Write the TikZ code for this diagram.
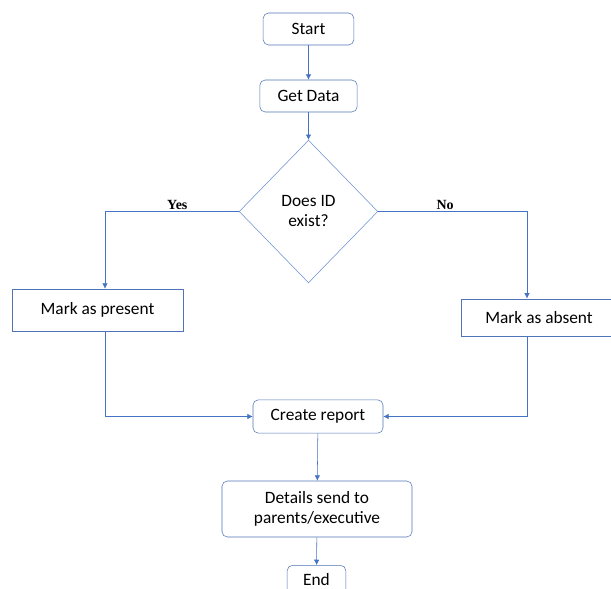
\documentclass[tikz,border=0pt]{standalone}
\usepackage{fontspec}
\setmainfont{Carlito}
\newfontfamily\labelfont{Liberation Serif}
\usetikzlibrary{arrows.meta,shapes.geometric,calc}
\definecolor{lineblue}{HTML}{4472C4}
\definecolor{boxblue}{HTML}{4F74B8}

\begin{document}
\begin{tikzpicture}[x=0.75pt,y=-0.75pt,font=\fontsize{13}{15}\selectfont,
  term/.style={draw=boxblue,rounded corners=4pt,fill=white,align=center,inner sep=0pt},
  plain/.style={draw=boxblue,fill=white,align=center,inner sep=0pt},
  decision/.style={draw=lineblue!80,diamond,align=center,inner sep=0pt,minimum width=104pt,minimum height=107pt},
  flow/.style={lineblue,-{Latex[length=4pt,width=4pt]}},
  tag/.style={text=black,font=\labelfont\bfseries\fontsize{10.5}{12}\selectfont,inner sep=1pt}]
\clip (0,0) rectangle (611,589);
\node[term,minimum width=68pt,minimum height=24pt] (start) at (308.5,29) {Start};
\node[term,minimum width=73pt,minimum height=24pt] (getdata) at (308.5,96) {Get Data};
\node[decision] (decide) at (308.5,211.5) {Does ID\\exist?};
\node[plain,minimum width=128pt,minimum height=31.5pt] (present) at (97.5,310) {Mark as present};
\node[plain,minimum width=117pt,minimum height=28pt] (absent) at (539,317.5) {Mark as absent};
\node[term,minimum width=97.5pt,minimum height=25pt] (report) at (318,416.5) {Create report};
\node[term,minimum width=142.5pt,minimum height=42pt] (details) at (317,509) {Details send to\\parents/executive};
\node[term,minimum width=44pt,minimum height=22pt] (finish) at (316.5,580) {End};
% branches
\draw[flow] (start) -- (getdata);
\draw[flow] (getdata) -- (decide);
\draw[flow] (decide.west) -| ($(present.north)+(7.5,0)$) node[tag,above,pos=0.23]{Yes};
\draw[flow] (decide.east) -| ($(absent.north)+(-12,0)$) node[tag,above,pos=0.225]{No};
% merge
\draw[flow] ($(present.south)+(7.5,0)$) |- (report.west);
\draw[flow] ($(absent.south)+(-12,0)$) |- (report.east);
\draw[flow] (report) -- (details);
\draw[flow] (details) -- (finish);
\end{tikzpicture}
\end{document}
